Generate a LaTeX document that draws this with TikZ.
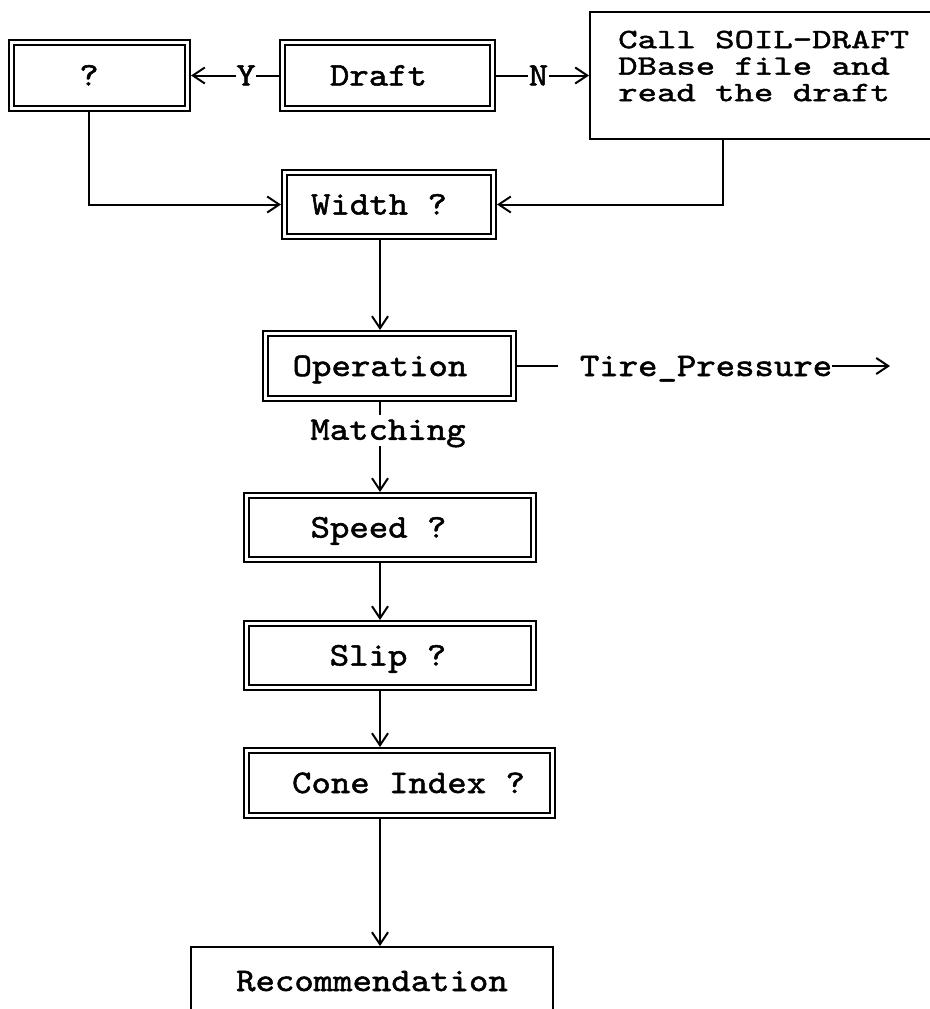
\documentclass[tikz,border=0pt]{standalone}
\usetikzlibrary{arrows.meta}

% typewriter faces, widened and slightly darkened
\font\ctt="[lmmono10-regular.otf]:extend=1.12;embolden=1.5" at 33pt
\font\cttn="[lmmono10-regular.otf]:extend=1.32;embolden=1.5" at 28pt

% shift a label sideways inside its box without changing the box width
\newcommand\nudge[2]{\hspace*{#1}#2\hspace*{-#1}}

\tikzset{
  txt/.style={font={\ctt\baselineskip=26pt\relax}},
  note/.style={font={\cttn\baselineskip=26.5pt\relax}},
  dbox/.style={txt, draw, double, double distance=3pt, line width=2pt,
    outer sep=3.5pt, inner sep=0pt, text height=20pt, text depth=0pt},
  sbox/.style={draw, line width=2pt, inner sep=0pt, outer sep=1pt},
  link/.style={line width=2pt},
  arr/.style={link, -{Straight Barb[length=12pt,width=16pt]}},
  tag/.style={txt, fill=white, inner xsep=0.5pt, inner ysep=1pt,
    text height=20pt, text depth=0pt}
}

\begin{document}
\begin{tikzpicture}[x=1pt,y=-1pt]
\useasboundingbox (0,0) rectangle (929,1009);
\path[fill=white] (0,0) rectangle (929,1009);

\coordinate (spine) at (380,0);

% top row
\node[dbox, minimum width=176pt, minimum height=66pt] (q) at (99.5,75.5) {\nudge{-10.5pt}{?}};
\node[dbox, minimum width=210pt, minimum height=66pt] (draft) at (387.5,75.5) {\nudge{-9pt}{Draft}};
\node[sbox, anchor=north west, minimum width=360pt, minimum height=127pt] (call) at (589,11) {};
\node[note, align=left, anchor=west, inner sep=0pt] (calltext) at (618,66)
  {Call SOIL-DRAFT\\DBase file and\\read the draft};

% main column
\node[dbox, minimum width=209pt, minimum height=64pt] (width) at (389,204.5) {\nudge{-10pt}{Width ?}};
\node[dbox, minimum width=248pt, minimum height=65pt] (op) at (389.5,366) {\nudge{-9.5pt}{Operation}};
\node[txt, inner sep=0pt, text height=20pt, text depth=6.5pt] (match) at (388,433) {Matching};
\node[dbox, minimum width=287pt, minimum height=64pt] (speed) at (390,527.5) {\nudge{-11.5pt}{Speed ?}};
\node[dbox, minimum width=287pt, minimum height=64pt] (slip) at (390,655.5) {\nudge{-2pt}{Slip ?}};
\node[dbox, minimum width=306pt, minimum height=65pt] (cone) at (399.5,783) {\nudge{9pt}{Cone Index ?}};
\node[sbox, txt, anchor=north west, minimum width=362pt, minimum height=68pt,
  text height=20pt, text depth=0pt] (rec) at (190,946) {Recommendation};

% side output
\node[txt, inner sep=0pt, text height=20pt, text depth=0pt] (tire) at (706,366) {Tire\_Pressure};
\coordinate (tireend) at (890,366);

% connectors
\draw[arr] (draft.west) -- node[tag, pos=0.375] {Y} (q.east);
\draw[arr] (draft.east) -- node[tag, pos=0.457] {N} (draft.east -| call.west);
\draw[arr] ([xshift=-10.5pt]q.south) |- (width.west);
\draw[arr] ([xshift=134pt]call.south west) |- (width.east);
\draw[arr] (width.south -| spine) -- (op.north -| spine);
\draw[link] (op.south -| spine) -- ([yshift=5pt]match.north -| spine);
\draw[arr] (match.south -| spine) -- (speed.north -| spine);
\draw[arr] (speed.south -| spine) -- (slip.north -| spine);
\draw[arr] (slip.south -| spine) -- (cone.north -| spine);
\draw[arr] (cone.south -| spine) -- (rec.north -| spine);
\draw[link] (op.east) -- ([xshift=-22pt]tire.west);
\draw[arr] (tire.east) -- (tireend);
\end{tikzpicture}
\end{document}
